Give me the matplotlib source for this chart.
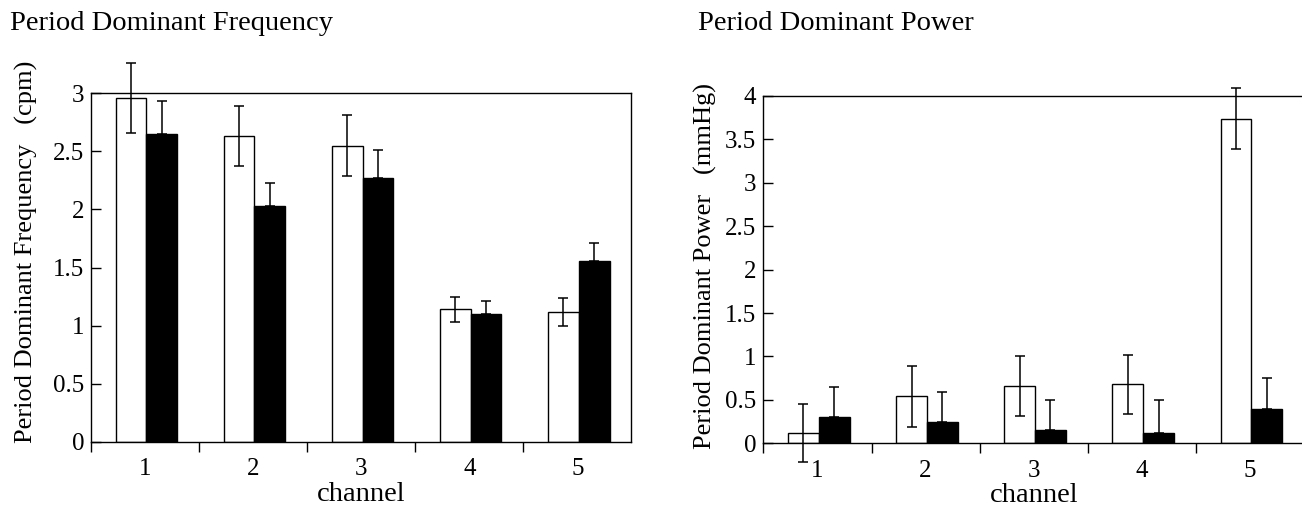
import numpy as np
import matplotlib
matplotlib.use('Agg')
import matplotlib.pyplot as plt

plt.rcParams['font.family'] = ['Liberation Serif', 'DejaVu Serif']

channels = [1, 2, 3, 4, 5]

# period dominant frequency (cpm)
freq_white = [2.96, 2.63, 2.55, 1.14, 1.12]
freq_white_err = [0.30, 0.26, 0.26, 0.11, 0.12]
freq_black = [2.65, 2.03, 2.27, 1.10, 1.56]
freq_black_err = [0.28, 0.20, 0.24, 0.11, 0.15]

# period dominant power (mmHg)
pow_white = [0.12, 0.54, 0.66, 0.68, 3.74]
pow_white_err = [0.33, 0.35, 0.35, 0.34, 0.35]
pow_black = [0.30, 0.24, 0.15, 0.12, 0.40]
pow_black_err = [0.35, 0.35, 0.35, 0.38, 0.35]

W = 0.285
x = np.array(channels)

fig = plt.figure(figsize=(13.02, 5.09), dpi=100)
ax1 = fig.add_axes([0.0699, 0.1322, 0.4151, 0.6845])
ax2 = fig.add_axes([0.5863, 0.1291, 0.4153, 0.6823])


def panel(ax, w, we, b, be, ymax, yticks):
    ax.bar(x - 0.13, w, W, color='white', edgecolor='black', linewidth=1.0)
    ax.bar(x + 0.155, b, W, color='black', edgecolor='black', linewidth=1.0)
    ax.errorbar(x - 0.13, w, yerr=we, fmt='none', ecolor='black',
                elinewidth=1.1, capsize=3.3, capthick=1.1, clip_on=False)
    # lower half of black-bar errors is hidden in the bar
    ax.errorbar(x + 0.155, b, yerr=[np.zeros(len(be)), be], fmt='none',
                ecolor='black', elinewidth=1.1, capsize=3.3, capthick=1.1,
                clip_on=False)
    ax.set_xlim(0.5, 5.5)
    ax.set_ylim(0, ymax)
    ax.set_xticks(channels)
    ax.set_xticks([0.5, 1.5, 2.5, 3.5, 4.5], minor=True)
    ax.tick_params(axis='x', which='major', length=0, labelsize=18, pad=12)
    ax.tick_params(axis='x', which='minor', length=7, width=1.0, direction='out')
    ax.set_yticks(yticks)
    ax.set_yticklabels(['%g' % t for t in yticks])
    ax.tick_params(axis='y', direction='in', length=7, width=1.0,
                   labelsize=18, pad=5)
    for s in ax.spines.values():
        s.set_linewidth(1.0)
    ax.set_xlabel('channel', fontsize=20.5, labelpad=1)


panel(ax1, freq_white, freq_white_err, freq_black, freq_black_err,
      3, np.arange(0, 3.01, 0.5))
panel(ax2, pow_white, pow_white_err, pow_black, pow_black_err,
      4, np.arange(0, 4.01, 0.5))

fig.text(10 / 1302, 1 - 30 / 509, 'Period Dominant Frequency', fontsize=20.5,
         ha='left', va='baseline')
fig.text(698 / 1302, 1 - 30 / 509, 'Period Dominant Power', fontsize=20.5,
         ha='left', va='baseline')
fig.text(26 / 1302, 1 - 252 / 509, 'Period Dominant Frequency   (cpm)',
         fontsize=19, rotation=90, ha='center', va='center')
fig.text(705 / 1302, 1 - 266 / 509, 'Period Dominant Power   (mmHg)',
         fontsize=19, rotation=90, ha='center', va='center')

plt.savefig('out.png', dpi=100)
